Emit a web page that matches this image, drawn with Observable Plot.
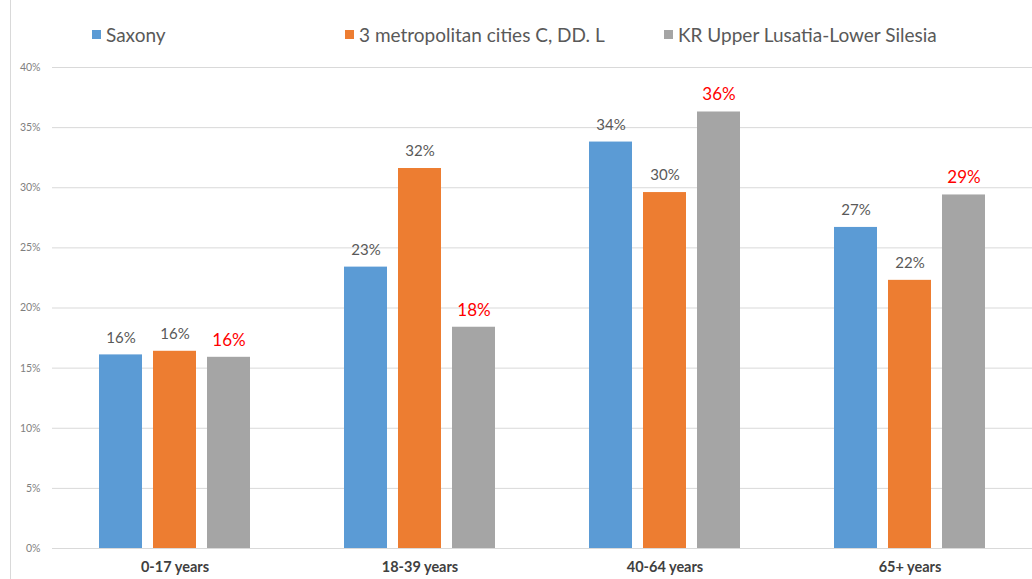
<!DOCTYPE html>
<html>
<head>
<meta charset="utf-8">
<script src="https://cdn.jsdelivr.net/npm/d3@7"></script>
<script src="https://cdn.jsdelivr.net/npm/@observablehq/plot@0.6"></script>
<style>
  html, body { margin: 0; padding: 0; background: #fff; }
  #wrap { position: relative; width: 1032px; height: 579px; overflow: hidden; font-family: Lato, "DejaVu Sans", sans-serif; }
  #frame { position: absolute; left: 10px; top: 0; bottom: 0; border-left: 1px solid #d9d9d9; }
  #legend { position: relative; height: 55px; }
  .item { position: absolute; top: 23px; font-size: 19px; color: #595959; line-height: 24px; white-space: nowrap; }
  .sw { display: inline-block; width: 9px; height: 9px; margin-right: 5px; vertical-align: 3px; }
  #chart { position: absolute; left: 0; top: 55px; }
</style>
</head>
<body>
<div id="wrap">
  <div id="frame"></div>
  <div id="legend"></div>
  <div id="chart"></div>
</div>
<script>
const groups = ["0-17 years", "18-39 years", "40-64 years", "65+ years"];
const series = ["Saxony", "3 metropolitan cities C, DD. L", "KR Upper Lusatia-Lower Silesia"];
const saxony = [16.1, 23.4, 33.8, 26.7];
const metro = [16.4, 31.6, 29.6, 22.3];
const lusatia = [15.9, 18.4, 36.3, 29.4];
const yTicks = [0, 5, 10, 15, 20, 25, 30, 35, 40];
const colors = ["#5b9bd5", "#ed7d31", "#a5a5a5"];

const seriesValues = [saxony, metro, lusatia];
const data = [];
groups.forEach((g, i) => {
  series.forEach((s, j) => data.push({group: g, series: s, value: seriesValues[j][i]}));
});

// legend
const legendLeft = [92, 345, 664];
const legend = document.getElementById("legend");
series.forEach((s, j) => {
  const el = document.createElement("div");
  el.className = "item";
  el.style.left = legendLeft[j] + "px";
  el.innerHTML = `<span class="sw" style="background:${colors[j]}"></span>${s}`;
  legend.appendChild(el);
});

const chart = Plot.plot({
  width: 1032,
  height: 524,
  marginTop: 12,
  marginBottom: 31,
  marginLeft: 52,
  marginRight: 0,
  style: {fontFamily: "Lato, 'DejaVu Sans', sans-serif", background: "transparent"},
  fx: {domain: groups, padding: 0, label: null},
  x: {domain: series, paddingInner: 0.21, paddingOuter: 0.85, axis: null},
  y: {domain: [0, 40], label: null},
  color: {domain: series, range: colors},
  marks: [
    Plot.gridY(yTicks, {stroke: "#d9d9d9", strokeOpacity: 1, strokeWidth: 1}),
    Plot.barY(data, {fx: "group", x: "series", y: "value", fill: "series"}),
    Plot.text(data.filter(d => d.series !== series[2]), {
      fx: "group", x: "series", y: "value",
      text: d => Math.round(d.value) + "%",
      dy: -17, fill: "#595959", fontSize: 15
    }),
    Plot.text(data.filter(d => d.series === series[2]), {
      fx: "group", x: "series", y: "value",
      text: d => Math.round(d.value) + "%",
      dy: -17, fill: "#ff0000", fontSize: 17
    }),
    Plot.axisY(yTicks, {tickFormat: d => d + "%", tickSize: 0, tickPadding: 12, fontSize: 10.5, fill: "#7f7f7f", label: null}),
    Plot.axisFx({anchor: "bottom", tickSize: 0, tickPadding: 13, fontSize: 14.5, fontWeight: "bold", fill: "#404040", label: null})
  ]
});
document.getElementById("chart").appendChild(chart);
</script>
</body>
</html>
